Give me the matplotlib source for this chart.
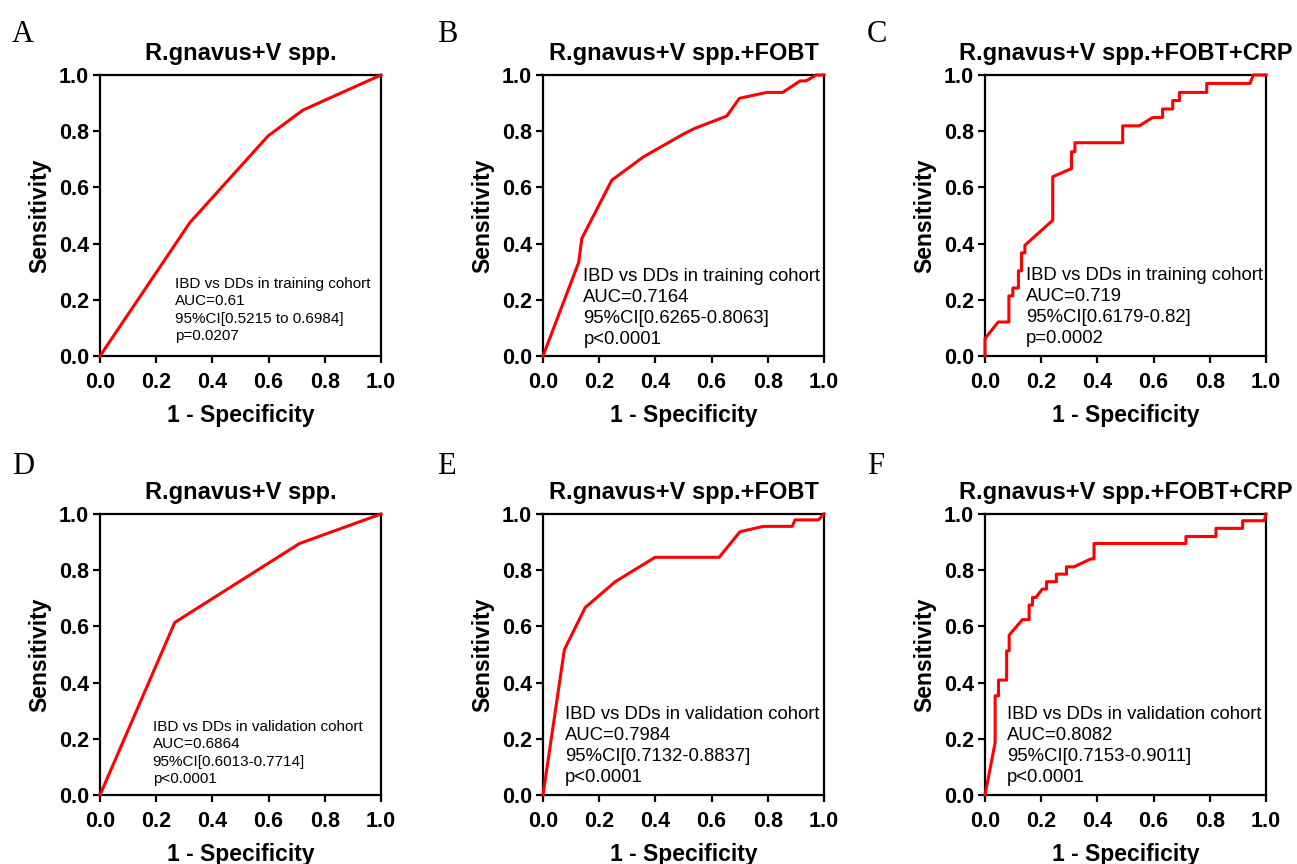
import matplotlib
matplotlib.use("Agg")
import matplotlib.pyplot as plt

plt.rcParams["font.family"] = ["Liberation Sans", "DejaVu Sans"]

# ROC curve points (1 - specificity, sensitivity)
fpr_a = [0, 0.32, 0.598, 0.722, 1.0]
tpr_a = [0, 0.475, 0.783, 0.875, 1.0]

fpr_b = [0, 0.127, 0.138, 0.245, 0.358, 0.50, 0.54, 0.654, 0.699, 0.796, 0.853, 0.915, 0.936, 0.972, 1.0]
tpr_b = [0, 0.333, 0.418, 0.626, 0.709, 0.79, 0.81, 0.854, 0.917, 0.938, 0.938, 0.979, 0.979, 1.0, 1.0]

fpr_c = [0, 0, 0.047, 0.085, 0.085, 0.099, 0.099, 0.119, 0.119, 0.130, 0.130, 0.142, 0.142,
         0.241, 0.241, 0.308, 0.308, 0.320, 0.320, 0.49, 0.49, 0.549, 0.597, 0.632, 0.632,
         0.668, 0.668, 0.692, 0.692, 0.789, 0.789, 0.943, 0.955, 1.0]
tpr_c = [0, 0.062, 0.121, 0.121, 0.214, 0.214, 0.242, 0.242, 0.303, 0.303, 0.367, 0.367, 0.394,
         0.483, 0.638, 0.667, 0.727, 0.727, 0.759, 0.759, 0.819, 0.819, 0.849, 0.849, 0.879,
         0.879, 0.909, 0.909, 0.938, 0.938, 0.970, 0.970, 1.0, 1.0]

fpr_d = [0, 0.266, 0.710, 1.0]
tpr_d = [0, 0.614, 0.895, 1.0]

fpr_e = [0, 0.076, 0.150, 0.257, 0.399, 0.627, 0.701, 0.784, 0.887, 0.897, 0.98, 1.0]
tpr_e = [0, 0.517, 0.667, 0.759, 0.846, 0.846, 0.937, 0.956, 0.956, 0.979, 0.979, 1.0]

fpr_f = [0, 0.036, 0.036, 0.048, 0.048, 0.077, 0.077, 0.086, 0.086, 0.133, 0.157, 0.157,
         0.169, 0.169, 0.181, 0.204, 0.219, 0.219, 0.254, 0.254, 0.29, 0.29, 0.317, 0.376,
         0.388, 0.388, 0.715, 0.715, 0.822, 0.822, 0.917, 0.917, 0.994, 1.0]
tpr_f = [0, 0.186, 0.353, 0.353, 0.409, 0.409, 0.513, 0.513, 0.569, 0.624, 0.624, 0.676,
         0.676, 0.703, 0.703, 0.733, 0.733, 0.759, 0.759, 0.786, 0.786, 0.812, 0.812, 0.840,
         0.840, 0.895, 0.895, 0.920, 0.920, 0.949, 0.949, 0.976, 0.976, 1.0]

letters = ["A", "B", "C", "D", "E", "F"]
titles = ["R.gnavus+V spp.", "R.gnavus+V spp.+FOBT", "R.gnavus+V spp.+FOBT+CRP"] * 2
notes = [
    "IBD vs DDs in training cohort\nAUC=0.61\n95%CI[0.5215 to 0.6984]\np=0.0207",
    "IBD vs DDs in training cohort\nAUC=0.7164\n95%CI[0.6265-0.8063]\np<0.0001",
    "IBD vs DDs in training cohort\nAUC=0.719\n95%CI[0.6179-0.82]\np=0.0002",
    "IBD vs DDs in validation cohort\nAUC=0.6864\n95%CI[0.6013-0.7714]\np<0.0001",
    "IBD vs DDs in validation cohort\nAUC=0.7984\n95%CI[0.7132-0.8837]\np<0.0001",
    "IBD vs DDs in validation cohort\nAUC=0.8082\n95%CI[0.7153-0.9011]\np<0.0001",
]
curves = [(fpr_a, tpr_a), (fpr_b, tpr_b), (fpr_c, tpr_c),
          (fpr_d, tpr_d), (fpr_e, tpr_e), (fpr_f, tpr_f)]

# text placement / size per panel
note_x = [0.267, 0.144, 0.146, 0.187, 0.079, 0.077]
note_y = [0.046, 0.030, 0.032, 0.032, 0.032, 0.032]
note_size = [11, 13.3, 13.3, 11, 13.3, 13.3]

W, H = 1297, 864
fig = plt.figure(figsize=(W / 100, H / 100), dpi=100)

lefts = [100, 543, 985]
tops = [75, 514]
aw, ah = 281, 281
letter_x = [12, 437, 867]
letter_base = [42, 474]

for i in range(6):
    r, c = divmod(i, 3)
    ax = fig.add_axes([lefts[c] / W, 1 - (tops[r] + ah) / H, aw / W, ah / H])
    fx, ty = curves[i]
    ax.plot(fx, ty, color="#ff0000", lw=2.2, clip_on=False, zorder=3)
    ax.set_xlim(0, 1)
    ax.set_ylim(0, 1)
    ax.set_xticks([0, 0.2, 0.4, 0.6, 0.8, 1.0])
    ax.set_yticks([0, 0.2, 0.4, 0.6, 0.8, 1.0])
    ax.set_xticklabels(["0.0", "0.2", "0.4", "0.6", "0.8", "1.0"])
    ax.set_yticklabels(["0.0", "0.2", "0.4", "0.6", "0.8", "1.0"])
    for s in ax.spines.values():
        s.set_linewidth(1.6)
    ax.tick_params(direction="out", length=5, width=1.6, labelsize=15.5)
    ax.tick_params(axis="x", pad=6.5)
    ax.tick_params(axis="y", pad=3)
    for lab in ax.get_xticklabels() + ax.get_yticklabels():
        lab.set_fontweight("bold")
    ax.set_xlabel("1 - Specificity", fontsize=16.5, fontweight="bold", labelpad=8)
    ax.set_ylabel("Sensitivity", fontsize=16.5, fontweight="bold", labelpad=5)
    ax.set_title(titles[i], fontsize=17, fontweight="bold", pad=11)
    ax.text(note_x[i], note_y[i], notes[i], transform=ax.transAxes, fontsize=note_size[i],
            ha="left", va="bottom", linespacing=1.3)
    fig.text(letter_x[c] / W, 1 - letter_base[r] / H, letters[i], fontsize=22,
             family="Liberation Serif", ha="left", va="baseline")

fig.savefig("out.png", dpi=100)
